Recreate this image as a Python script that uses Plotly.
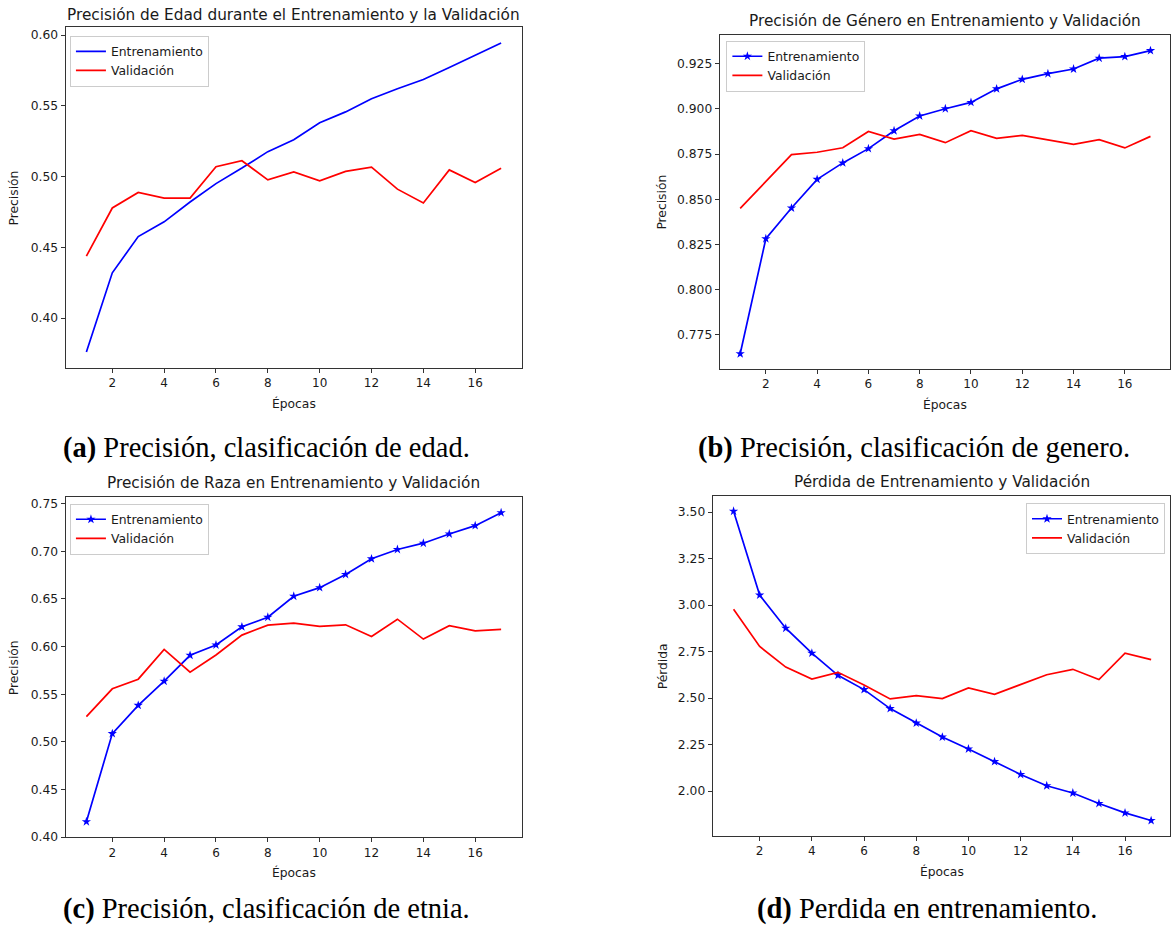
import plotly.graph_objects as go

W, H = 1171, 937

epochs = list(range(1, 18))

age_train = [0.376, 0.432, 0.4576, 0.468, 0.482, 0.495, 0.506, 0.5176, 0.526, 0.538,
             0.5457, 0.555, 0.562, 0.5686, 0.577, 0.5855, 0.5944]
age_val = [0.4438, 0.4778, 0.4888, 0.4848, 0.4848, 0.507, 0.5112, 0.4977, 0.5033, 0.497,
           0.5037, 0.5066, 0.4911, 0.4813, 0.5047, 0.4958, 0.5059]

gender_train = [0.7644, 0.8281, 0.8451, 0.861, 0.8701, 0.878, 0.8879, 0.8961, 0.9001, 0.9036,
                0.9111, 0.9164, 0.9195, 0.9221, 0.9281, 0.929, 0.9323]
gender_val = [0.8449, 0.8601, 0.8747, 0.876, 0.8785, 0.8875, 0.8833, 0.8859, 0.8813, 0.8879,
              0.8837, 0.8853, 0.8828, 0.8804, 0.883, 0.8784, 0.8848]

race_train = [0.4161, 0.5087, 0.5383, 0.5637, 0.5909, 0.6017, 0.6208, 0.6309, 0.6529, 0.6619,
              0.6758, 0.6922, 0.702, 0.7086, 0.7183, 0.727, 0.7406]
race_val = [0.5265, 0.5557, 0.5658, 0.5971, 0.5731, 0.5912, 0.6121, 0.6226, 0.6247, 0.6212,
            0.6229, 0.6107, 0.6288, 0.6079, 0.6219, 0.6166, 0.618]

loss_train = [3.505, 3.054, 2.876, 2.742, 2.623, 2.546, 2.444, 2.366, 2.291, 2.227,
              2.159, 2.09, 2.029, 1.99, 1.934, 1.883, 1.842]
loss_val = [2.978, 2.778, 2.667, 2.603, 2.639, 2.571, 2.496, 2.514, 2.498, 2.555,
            2.521, 2.573, 2.626, 2.655, 2.6, 2.742, 2.707]

titles = ["Precisión de Edad durante el Entrenamiento y la Validación",
          "Precisión de Género en Entrenamiento y Validación",
          "Precisión de Raza en Entrenamiento y Validación",
          "Pérdida de Entrenamiento y Validación"]
ylabels = ["Precisión", "Precisión", "Precisión", "Pérdida"]
xlabel = "Épocas"
captions_bold = ["(a)", "(b)", "(c)", "(d)"]
captions = ["Precisión, clasificación de edad.",
            "Precisión, clasificación de genero.",
            "Precisión, clasificación de etnia.",
            "Perdida en entrenamiento."]
legend_names = ["Entrenamiento", "Validación"]
xticks = [2, 4, 6, 8, 10, 12, 14, 16]
yticks = [[0.40, 0.45, 0.50, 0.55, 0.60],
          [0.775, 0.800, 0.825, 0.850, 0.875, 0.900, 0.925],
          [0.40, 0.45, 0.50, 0.55, 0.60, 0.65, 0.70, 0.75],
          [2.00, 2.25, 2.50, 2.75, 3.00, 3.25, 3.50]]
yfmt = [".2f", ".3f", ".2f", ".2f"]

series = [(age_train, age_val, False),
          (gender_train, gender_val, True),
          (race_train, race_val, True),
          (loss_train, loss_val, True)]

# layout geometry in pixels (left, right, top, bottom)
boxes = [(65.7, 522.3, 27.7, 370.3),
         (720.3, 1172.0, 35.7, 371.7),
         (65.7, 522.3, 501.0, 843.5),
         (713.3, 1173.0, 499.5, 842.3)]
title_y = [15, 21, 487, 486]
ylabel_x = [14, 663, 14, 663]
xlabel_dy = 36
legend_pos = [(70, 36, "left"), (727, 41, "left"), (70, 507.5, "left"), (1166, 507, "right")]
caption_pos = [(266.5, 451), (914.5, 451), (267, 916), (927.5, 916)]

BLUE = "#0000ff"
RED = "#ff0000"
TXT = "#1a1a1a"
FONT = "DejaVu Sans"


def fx(x):
    return x / W


def fy(y):
    return 1 - y / H


fig = go.Figure()
annotations = []

for i, ((tr, va, markers), (l, r, t, b)) in enumerate(zip(series, boxes)):
    n = "" if i == 0 else str(i + 1)
    xa, ya = "x" + n, "y" + n
    leg = "legend" if i == 0 else "legend" + str(i + 1)
    fig.add_trace(go.Scatter(
        x=epochs, y=tr, name=legend_names[0], xaxis=xa, yaxis=ya, legend=leg,
        mode="lines+markers" if markers else "lines",
        line=dict(color=BLUE, width=1.7),
        marker=dict(symbol="star", size=7, color=BLUE)))
    fig.add_trace(go.Scatter(
        x=epochs, y=va, name=legend_names[1], xaxis=xa, yaxis=ya, legend=leg,
        mode="lines", line=dict(color=RED, width=1.7)))

    # axis ranges with matplotlib-like 5% margins
    xr0 = min(epochs) - 0.05 * (max(epochs) - min(epochs))
    xr1 = max(epochs) + 0.05 * (max(epochs) - min(epochs))
    allv = tr + va
    vmin, vmax = min(allv), max(allv)
    yr0 = vmin - 0.05 * (vmax - vmin)
    yr1 = vmax + 0.05 * (vmax - vmin)

    # clip domains at figure edge, adjusting the range accordingly
    rr = min(r, W)
    xr1_clip = xr0 + (xr1 - xr0) * (rr - l) / (r - l)

    fig.layout["xaxis" + n] = dict(
        domain=[fx(l), fx(rr)], anchor=ya, range=[xr0, xr1_clip],
        tickvals=xticks, ticks="outside", ticklen=4, tickwidth=1, tickcolor="#333",
        showline=True, linecolor="#333", linewidth=1, mirror=True,
        showgrid=False, zeroline=False,
        tickfont=dict(family=FONT, size=12, color=TXT))
    fig.layout["yaxis" + n] = dict(
        domain=[fy(b), fy(t)], anchor=xa, range=[yr0, yr1],
        tickvals=yticks[i], tickformat=yfmt[i], ticks="outside", ticklen=4,
        tickwidth=1, tickcolor="#333",
        showline=True, linecolor="#333", linewidth=1, mirror=True,
        showgrid=False, zeroline=False,
        tickfont=dict(family=FONT, size=12.3, color=TXT))

    lx, ly, anch = legend_pos[i]
    fig.layout[leg] = dict(
        x=fx(lx), y=fy(ly), xanchor=anch, yanchor="top",
        bgcolor="rgba(255,255,255,0.8)", bordercolor="#cccccc", borderwidth=1,
        font=dict(family=FONT, size=12.4, color=TXT), itemwidth=30,
        tracegroupgap=0)

    cx = (l + r) / 2
    annotations.append(dict(
        text=titles[i], x=fx(cx), y=fy(title_y[i]), xref="paper", yref="paper",
        xanchor="center", yanchor="middle", showarrow=False,
        font=dict(family=FONT, size=15.3, color=TXT)))
    annotations.append(dict(
        text=xlabel, x=fx(cx), y=fy(b + xlabel_dy), xref="paper", yref="paper",
        xanchor="center", yanchor="middle", showarrow=False,
        font=dict(family=FONT, size=12.3, color=TXT)))
    annotations.append(dict(
        text=ylabels[i], x=fx(ylabel_x[i]), y=fy((t + b) / 2), xref="paper", yref="paper",
        xanchor="center", yanchor="middle", showarrow=False, textangle=-90,
        font=dict(family=FONT, size=12.3, color=TXT)))
    cxp, cyp = caption_pos[i]
    annotations.append(dict(
        text="<b>" + captions_bold[i] + "</b> " + captions[i],
        x=fx(cxp), y=fy(cyp), xref="paper", yref="paper",
        xanchor="center", yanchor="middle", showarrow=False,
        font=dict(family="Liberation Serif", size=28.5, color="#000000")))

fig.update_layout(
    width=W, height=H, margin=dict(l=0, r=0, t=0, b=0),
    paper_bgcolor="white", plot_bgcolor="white",
    annotations=annotations, showlegend=True)

fig.write_html(
    "out.html",
    config={"displayModeBar": False},
    post_script="document.body.style.margin='0';document.body.style.overflow='hidden';")
